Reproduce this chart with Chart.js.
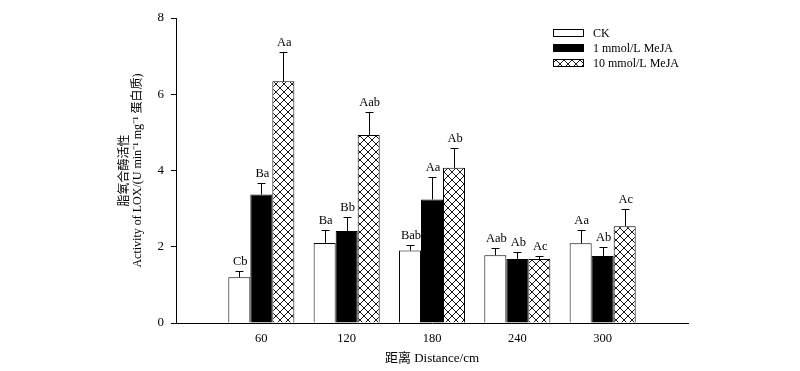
<!DOCTYPE html>
<html>
<head>
<meta charset="utf-8">
<script src="https://cdn.jsdelivr.net/npm/chart.js@4.4.1/dist/chart.umd.min.js"></script>
<style>
  html, body { margin: 0; padding: 0; background: #fff; }
  #wrap { width: 800px; height: 371px; }
</style>
</head>
<body>
<div id="wrap"><canvas id="loxChart"></canvas></div>
<script>
// data
const categories = ["60", "120", "180", "240", "300"];
const seriesNames = ["CK", "1 mmol/L MeJA", "10 mmol/L MeJA"];

const ckValues = [1.20, 2.10, 1.90, 1.78, 2.09];
const ckErrors = [0.17, 0.35, 0.15, 0.18, 0.35];
const ckLetters = ["Cb", "Ba", "Bab", "Aab", "Aa"];

const lowValues = [3.37, 2.41, 3.24, 1.68, 1.76];
const lowErrors = [0.31, 0.37, 0.58, 0.19, 0.23];
const lowLetters = ["Ba", "Bb", "Aa", "Ab", "Ab"];

const highValues = [6.34, 4.93, 4.07, 1.68, 2.54];
const highErrors = [0.76, 0.60, 0.53, 0.08, 0.44];
const highLetters = ["Aa", "Aab", "Ab", "Ac", "Ac"];

const yTicks = [0, 2, 4, 6, 8];

const SERIF = "'Liberation Serif', 'Times New Roman', 'Noto Sans CJK SC', serif";

// x axis runs 0..360 cm, bars only at 60..300
const axisLabels = [""].concat(categories, [""]);
function pad(arr) {
  return [null].concat(arr, [null]);
}

// cross hatch fill
function makeHatch() {
  const s = 8;
  const c = document.createElement("canvas");
  c.width = s;
  c.height = s;
  const g = c.getContext("2d");
  g.fillStyle = "#fff";
  g.fillRect(0, 0, s, s);
  g.strokeStyle = "#000";
  g.lineWidth = 0.9;
  g.beginPath();
  g.moveTo(0, 0); g.lineTo(s, s);
  g.moveTo(s, 0); g.lineTo(0, s);
  g.stroke();
  return g.createPattern(c, "repeat");
}

const canvas = document.getElementById("loxChart");
const ctx = canvas.getContext("2d");
const hatch = makeHatch();

const fills = ["#ffffff", "#000000", hatch];

const errorBarPlugin = {
  id: "errorBars",
  afterDatasetsDraw(chart) {
    const c = chart.ctx;
    const yScale = chart.scales.y;
    c.save();
    c.strokeStyle = "#000";
    c.fillStyle = "#000";
    c.lineWidth = 1;
    c.font = "12.5px " + SERIF;
    c.textAlign = "center";
    c.textBaseline = "alphabetic";
    chart.data.datasets.forEach((ds, i) => {
      const meta = chart.getDatasetMeta(i);
      meta.data.forEach((bar, j) => {
        const v = ds.data[j];
        if (v === null) return;
        const err = ds.errors[j];
        const yTop = yScale.getPixelForValue(v + err);
        const x = Math.round(bar.x) + 0.5;
        c.beginPath();
        c.moveTo(x, bar.y);
        c.lineTo(x, Math.round(yTop) + 0.5);
        c.moveTo(x - 4, Math.round(yTop) + 0.5);
        c.lineTo(x + 4, Math.round(yTop) + 0.5);
        c.stroke();
        c.fillText(ds.letters[j], bar.x + 1, yTop - 6);
      });
    });
    c.restore();
  }
};

const legendPlugin = {
  id: "boxLegend",
  afterDraw(chart) {
    const c = chart.ctx;
    c.save();
    c.font = "12px " + SERIF;
    c.textBaseline = "middle";
    c.textAlign = "left";
    chart.data.datasets.forEach((ds, i) => {
      const yc = 33 + i * 15;
      c.fillStyle = fills[i];
      c.fillRect(553, yc - 3, 31, 7);
      c.strokeStyle = "#000";
      c.lineWidth = 1;
      c.strokeRect(553.5, yc - 3.5, 30, 7);
      c.fillStyle = "#000";
      c.fillText(ds.label, 593, yc + 1);
    });
    c.restore();
  }
};

function makeDataset(i, values, errors, letters) {
  return {
    label: seriesNames[i],
    data: pad(values),
    errors: pad(errors),
    letters: pad(letters),
    backgroundColor: fills[i],
    borderColor: "#000",
    borderWidth: 1,
    borderSkipped: "bottom",
    categoryPercentage: 0.774,
    barPercentage: 1.0
  };
}

new Chart(ctx, {
  type: "bar",
  data: {
    labels: axisLabels,
    datasets: [
      makeDataset(0, ckValues, ckErrors, ckLetters),
      makeDataset(1, lowValues, lowErrors, lowLetters),
      makeDataset(2, highValues, highErrors, highLetters)
    ]
  },
  options: {
    responsive: true,
    maintainAspectRatio: false,
    animation: false,
    devicePixelRatio: 1,
    layout: {
      padding: { left: 118, right: 112, top: 18, bottom: 0 }
    },
    plugins: {
      legend: { display: false },
      tooltip: { enabled: false }
    },
    scales: {
      x: {
        offset: false,
        grid: { display: false },
        border: { display: true, color: "#000", width: 1 },
        ticks: {
          color: "#000",
          font: { family: SERIF, size: 12.5 },
          padding: 0,
          maxRotation: 0,
          autoSkip: false
        },
        title: {
          display: true,
          text: "距离 Distance/cm",
          color: "#000",
          font: { family: SERIF, size: 13 },
          padding: { top: 0, bottom: 5 }
        },
        afterFit(scale) {
          scale.height = 48;
        }
      },
      y: {
        min: 0,
        max: 8,
        afterBuildTicks(scale) {
          scale.ticks = yTicks.map(v => ({ value: v }));
        },
        grid: {
          display: true,
          drawOnChartArea: false,
          drawTicks: true,
          tickLength: 5,
          color: "#000",
          lineWidth: 1
        },
        border: { display: true, color: "#000", width: 1 },
        ticks: {
          color: "#000",
          font: { family: SERIF, size: 13 },
          padding: 7
        },
        title: {
          display: true,
          text: ["脂氧合酶活性", "Activity of LOX/(U min⁻¹ mg⁻¹ 蛋白质)"],
          color: "#000",
          font: { family: SERIF, size: 12, lineHeight: 1.1 },
          padding: { top: 0, bottom: 0 }
        },
        afterFit(scale) {
          scale.width = 58;
        }
      }
    }
  },
  plugins: [errorBarPlugin, legendPlugin]
});
</script>
</body>
</html>
